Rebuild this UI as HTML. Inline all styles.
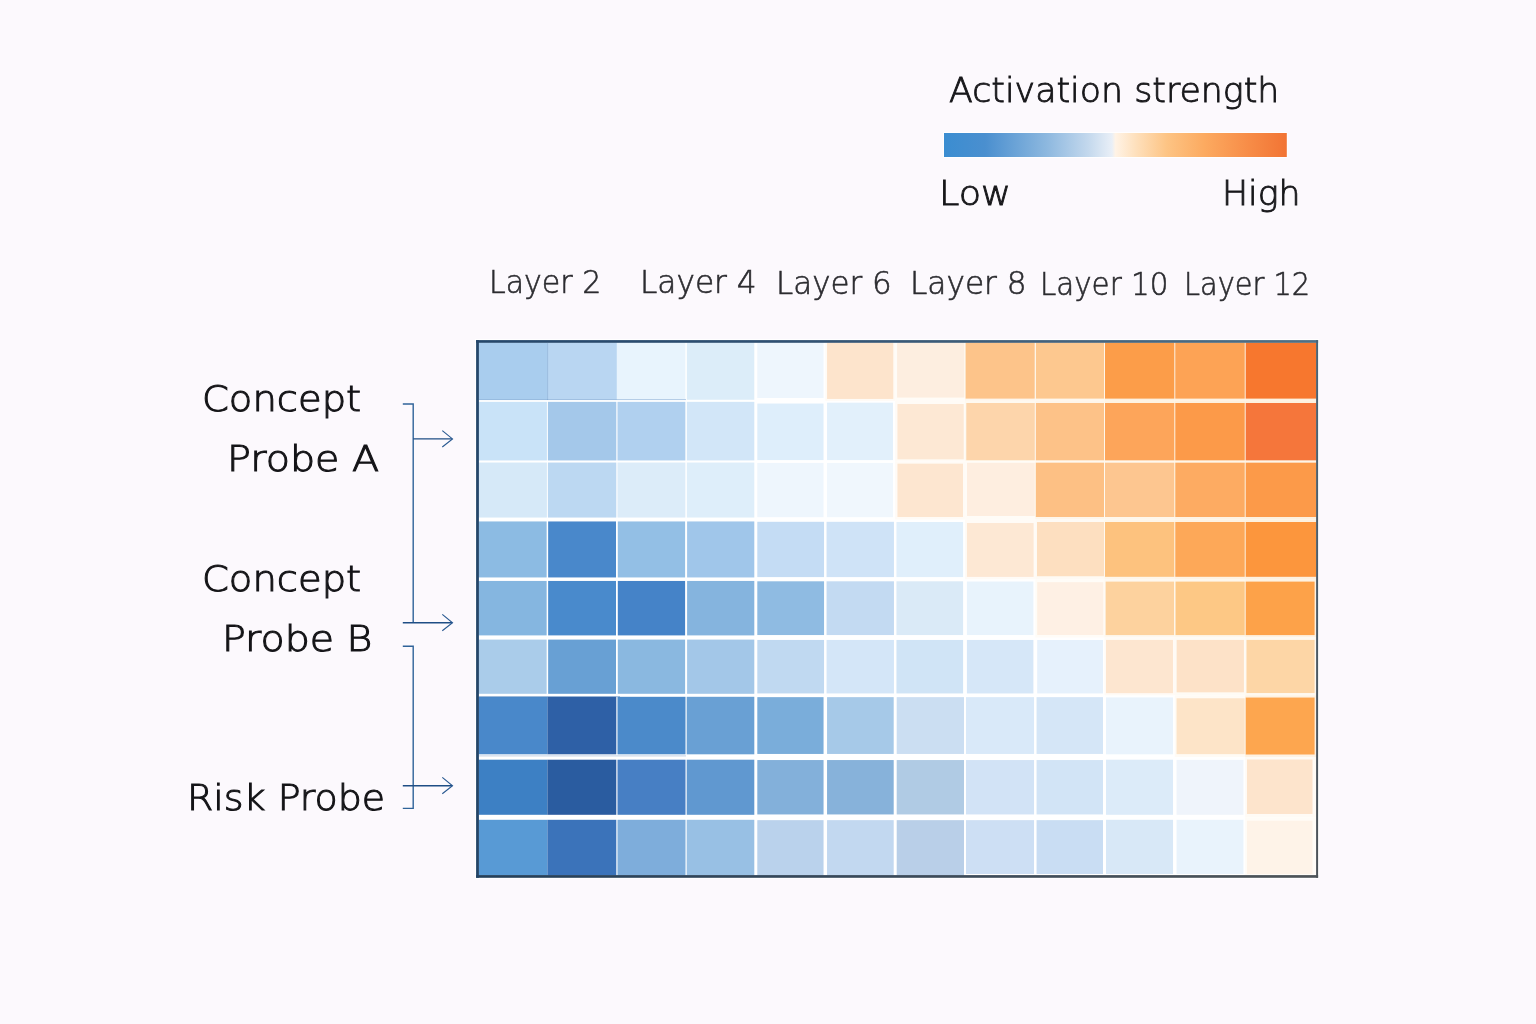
<!DOCTYPE html>
<html lang="en">
<head>
<meta charset="utf-8">
<title>Activation strength heatmap</title>
<style>
html,body{margin:0;padding:0}
body{width:1536px;height:1024px;overflow:hidden;background:#fcf9fd;position:relative;font-family:"DejaVu Sans Light","DejaVu Sans","Liberation Sans",sans-serif;font-weight:200}
.t{position:absolute;white-space:nowrap;line-height:1;transform-origin:0 0;margin:0}
</style>
</head>
<body>

<svg width="1536" height="1024" viewBox="0 0 1536 1024" style="position:absolute;left:0;top:0" role="img" aria-label="Activation strength heatmap">
<defs><linearGradient id="cb" x1="0" x2="1" y1="0" y2="0"><stop offset="0" stop-color="#3b8dd1"/><stop offset="0.12" stop-color="#4a8fcf"/><stop offset="0.3" stop-color="#8db8df"/><stop offset="0.42" stop-color="#c3d8ed"/><stop offset="0.49" stop-color="#e9eff7"/><stop offset="0.5" stop-color="#fff3e6"/><stop offset="0.56" stop-color="#fee0bc"/><stop offset="0.65" stop-color="#fdc484"/><stop offset="0.76" stop-color="#fcaa60"/><stop offset="0.89" stop-color="#f78c47"/><stop offset="1" stop-color="#f27434"/></linearGradient><linearGradient id="ft" x1="0" x2="1" y1="0" y2="0"><stop offset="0" stop-color="#25476b"/><stop offset="0.35" stop-color="#2f5072"/><stop offset="0.7" stop-color="#45637c"/><stop offset="1" stop-color="#507084"/></linearGradient><linearGradient id="fb" x1="0" x2="1" y1="0" y2="0"><stop offset="0" stop-color="#233f5a"/><stop offset="0.5" stop-color="#3a4a5a"/><stop offset="1" stop-color="#4e5458"/></linearGradient><linearGradient id="fl" x1="0" x2="0" y1="0" y2="1"><stop offset="0" stop-color="#25476b"/><stop offset="1" stop-color="#234466"/></linearGradient><linearGradient id="fg" x1="0" x2="0" y1="0" y2="1"><stop offset="0" stop-color="#4a6374"/><stop offset="1" stop-color="#4d5358"/></linearGradient><filter id="soft" x="-2%" y="-2%" width="104%" height="104%"><feGaussianBlur stdDeviation="0.45"/></filter></defs>
<rect x="943.2" y="132.2" width="344.4" height="25.6" fill="#ffffff"/>
<rect x="944" y="133" width="342.8" height="24" fill="url(#cb)"/>
<rect x="475" y="339" width="844.2" height="539.8" fill="#ffffff"/>
<rect x="478" y="342" width="839" height="534" fill="#ffffff"/>
<g><rect x="825.3" y="343" width="69.9" height="57.8" fill="#fffbf5"/><rect x="895.2" y="343" width="69.8" height="57.8" fill="#fffcf7"/><rect x="965" y="343" width="70.3" height="57.8" fill="#fef6eb"/><rect x="1035.3" y="343" width="69.2" height="57.8" fill="#fef7ec"/><rect x="1104.5" y="343" width="70.3" height="57.8" fill="#fdf1e0"/><rect x="1174.8" y="343" width="70.4" height="57.8" fill="#fef2e1"/><rect x="1245.2" y="343" width="70.8" height="57.8" fill="#fdf1df"/><rect x="895.2" y="400.8" width="69.8" height="60.7" fill="#fffbf6"/><rect x="965" y="400.8" width="70.3" height="60.7" fill="#fef9f0"/><rect x="1035.3" y="400.8" width="69.2" height="60.7" fill="#fef6eb"/><rect x="1104.5" y="400.8" width="70.3" height="60.7" fill="#fef3e2"/><rect x="1174.8" y="400.8" width="70.4" height="60.7" fill="#fdf1df"/><rect x="1245.2" y="400.8" width="70.8" height="60.7" fill="#fdf1df"/><rect x="895.2" y="461.5" width="69.8" height="58" fill="#fffbf6"/><rect x="965" y="461.5" width="70.3" height="58" fill="#fffcf7"/><rect x="1035.3" y="461.5" width="69.2" height="58" fill="#fef6ea"/><rect x="1104.5" y="461.5" width="70.3" height="58" fill="#fef7ec"/><rect x="1174.8" y="461.5" width="70.4" height="58" fill="#fef3e4"/><rect x="1245.2" y="461.5" width="70.8" height="58" fill="#fdf1df"/><rect x="965" y="519.5" width="70.3" height="59.7" fill="#fffbf6"/><rect x="1035.3" y="519.5" width="69.2" height="59.7" fill="#fefaf4"/><rect x="1104.5" y="519.5" width="70.3" height="59.7" fill="#fef6ea"/><rect x="1174.8" y="519.5" width="70.4" height="59.7" fill="#fef3e3"/><rect x="1245.2" y="519.5" width="70.8" height="59.7" fill="#fdf1df"/><rect x="1035.3" y="579.2" width="69.2" height="58.3" fill="#fffcf7"/><rect x="1104.5" y="579.2" width="70.3" height="58.3" fill="#fef8ef"/><rect x="1174.8" y="579.2" width="70.4" height="58.3" fill="#fef7ec"/><rect x="1245.2" y="579.2" width="70.8" height="58.3" fill="#fef2e1"/><rect x="1104.5" y="637.5" width="70.3" height="57.8" fill="#fffbf6"/><rect x="1174.8" y="637.5" width="70.4" height="57.8" fill="#fefbf5"/><rect x="1245.2" y="637.5" width="70.8" height="57.8" fill="#fef9f0"/><rect x="1174.8" y="695.3" width="70.4" height="61.7" fill="#fffbf5"/><rect x="1245.2" y="695.3" width="70.8" height="61.7" fill="#fef2e2"/><rect x="1245.2" y="757" width="70.8" height="60.3" fill="#fffbf5"/><rect x="1245.2" y="817.3" width="70.8" height="57.7" fill="#fffcf7"/></g>
<g filter="url(#soft)"><rect x="478.5" y="342.5" width="68.9" height="57.25" fill="#a9cdee"/>
<rect x="547.4" y="342.5" width="69.5" height="57.25" fill="#b9d6f2"/>
<rect x="616.9" y="342.5" width="68.45" height="57.25" fill="#e8f4fd"/>
<rect x="686.85" y="342.5" width="67.45" height="57.25" fill="#dcedf9"/>
<rect x="757.3" y="342.5" width="66.25" height="55.55" fill="#eef6fd"/>
<rect x="827.05" y="342.5" width="66.24" height="56.43" fill="#fde4cc"/>
<rect x="897.11" y="342.5" width="67.27" height="55.07" fill="#fdeee0"/>
<rect x="965.62" y="342.5" width="69.06" height="56.1" fill="#fdc48a"/>
<rect x="1035.92" y="342.5" width="68.08" height="56.1" fill="#fdc88f"/>
<rect x="1105" y="342.5" width="69.3" height="56.1" fill="#fc9d4a"/>
<rect x="1175.3" y="342.5" width="69.4" height="56.1" fill="#fda354"/>
<rect x="1245.7" y="342.5" width="70.8" height="56.1" fill="#f7772f"/>
<rect x="478.5" y="401.85" width="68.4" height="58.6" fill="#c9e3f8"/>
<rect x="547.9" y="401.85" width="68.4" height="58.6" fill="#a4c8ea"/>
<rect x="617.5" y="401.85" width="67.85" height="58.6" fill="#b0d0ef"/>
<rect x="686.85" y="401.85" width="67.45" height="58.6" fill="#d2e6f8"/>
<rect x="757.3" y="403.55" width="66.25" height="56.55" fill="#deeefb"/>
<rect x="827.05" y="402.68" width="65.9" height="57.43" fill="#e2f0fb"/>
<rect x="897.45" y="404.03" width="66.26" height="55.34" fill="#fde8d4"/>
<rect x="966.29" y="403" width="68.46" height="57.25" fill="#fdd5ab"/>
<rect x="1035.85" y="403" width="68.15" height="57.3" fill="#fdc288"/>
<rect x="1105" y="403" width="69.3" height="57.3" fill="#fda55a"/>
<rect x="1175.3" y="403" width="69.4" height="57.3" fill="#fc9a4a"/>
<rect x="1245.7" y="403" width="70.8" height="57.3" fill="#f5763a"/>
<rect x="478.5" y="462.55" width="68.4" height="55" fill="#d6e9f8"/>
<rect x="547.9" y="462.55" width="68.4" height="55" fill="#bcd8f2"/>
<rect x="617.5" y="462.55" width="67.85" height="55" fill="#dcecf9"/>
<rect x="686.85" y="462.55" width="67.45" height="55" fill="#deeefa"/>
<rect x="757.3" y="462.9" width="66.25" height="54.3" fill="#eef6fd"/>
<rect x="827.05" y="462.9" width="65.9" height="54.3" fill="#f0f7fd"/>
<rect x="897.45" y="463.63" width="65.56" height="53.4" fill="#fde6d0"/>
<rect x="966.99" y="462.75" width="67.81" height="53.22" fill="#feeee0"/>
<rect x="1035.8" y="462.7" width="68.2" height="54.3" fill="#fdc084"/>
<rect x="1105" y="462.7" width="69.3" height="54.3" fill="#fdc690"/>
<rect x="1175.3" y="462.7" width="69.4" height="54.3" fill="#fdab62"/>
<rect x="1245.7" y="462.7" width="70.8" height="54.3" fill="#fc9a48"/>
<rect x="478.5" y="521.45" width="68.15" height="56" fill="#8cbbe3"/>
<rect x="548.15" y="521.45" width="67.85" height="56" fill="#4a88cb"/>
<rect x="617.8" y="521.45" width="67.3" height="56" fill="#93bfe5"/>
<rect x="687.1" y="521.45" width="67.2" height="56" fill="#a0c6ea"/>
<rect x="757.3" y="521.8" width="66.75" height="55.3" fill="#c4dcf4"/>
<rect x="826.55" y="521.8" width="67.4" height="55.3" fill="#cfe3f7"/>
<rect x="896.45" y="521.98" width="66.65" height="55.12" fill="#e0effb"/>
<rect x="966.9" y="523.03" width="66.7" height="53.85" fill="#fde8d4"/>
<rect x="1037" y="522" width="67" height="54.24" fill="#fddfc0"/>
<rect x="1105" y="522" width="69.3" height="54.8" fill="#fdc27e"/>
<rect x="1175.3" y="522" width="69.4" height="54.8" fill="#fda858"/>
<rect x="1245.7" y="522" width="70.8" height="54.8" fill="#fc963e"/>
<rect x="478.5" y="580.95" width="68.15" height="54.45" fill="#85b6e0"/>
<rect x="548.15" y="580.95" width="67.85" height="54.45" fill="#4a8acc"/>
<rect x="617.8" y="580.95" width="67.3" height="54.45" fill="#4583c8"/>
<rect x="687.1" y="580.95" width="67.2" height="54.45" fill="#85b4de"/>
<rect x="757.3" y="581.3" width="66.75" height="53.75" fill="#8fbbe2"/>
<rect x="826.55" y="581.3" width="67.4" height="53.75" fill="#c3daf2"/>
<rect x="896.45" y="581.3" width="66.65" height="53.75" fill="#daeaf7"/>
<rect x="966.9" y="581.53" width="66.5" height="53.52" fill="#e8f3fc"/>
<rect x="1037.2" y="582.16" width="66.17" height="52.84" fill="#fef0e4"/>
<rect x="1105.63" y="581.6" width="68.46" height="53.5" fill="#fdd29e"/>
<rect x="1175.51" y="581.6" width="69.19" height="53.5" fill="#fdc885"/>
<rect x="1245.7" y="581.6" width="68.9" height="53.5" fill="#fda24a"/>
<rect x="478.5" y="639.6" width="68.15" height="54.2" fill="#aaccea"/>
<rect x="548.15" y="639.6" width="67.85" height="54.2" fill="#67a0d4"/>
<rect x="617.8" y="639.6" width="67.3" height="54.2" fill="#8ab8e0"/>
<rect x="687.1" y="639.6" width="67.2" height="54.2" fill="#a3c7e8"/>
<rect x="757.3" y="639.95" width="66.75" height="53.5" fill="#c0d9f1"/>
<rect x="826.55" y="639.95" width="67.4" height="53.5" fill="#d4e6f8"/>
<rect x="896.45" y="639.95" width="66.65" height="53.5" fill="#d0e4f6"/>
<rect x="966.9" y="639.95" width="66.5" height="53.5" fill="#d6e7f8"/>
<rect x="1037.2" y="640" width="65.8" height="53.45" fill="#e6f1fc"/>
<rect x="1106" y="639.9" width="66.97" height="53.27" fill="#fde6d0"/>
<rect x="1176.63" y="639.9" width="67.28" height="52.42" fill="#fde2c8"/>
<rect x="1246.49" y="639.9" width="68.11" height="53.15" fill="#fdd6a6"/>
<rect x="478.5" y="696.8" width="68.9" height="57.5" fill="#4888ca"/>
<rect x="547.4" y="696.8" width="68.9" height="57.5" fill="#2d60a6"/>
<rect x="617.5" y="696.8" width="68" height="57.5" fill="#4b8aca"/>
<rect x="686.7" y="696.8" width="67.6" height="57.5" fill="#69a0d4"/>
<rect x="757.3" y="697.15" width="66.25" height="56.8" fill="#7aadda"/>
<rect x="827.05" y="697.15" width="66.65" height="56.8" fill="#a6c9e8"/>
<rect x="896.7" y="697.15" width="67.3" height="56.8" fill="#cbdef2"/>
<rect x="966" y="697.15" width="68.05" height="56.8" fill="#d9e9f9"/>
<rect x="1036.55" y="697.15" width="66.45" height="56.8" fill="#d5e6f7"/>
<rect x="1106" y="697.42" width="67.05" height="56.88" fill="#e9f3fc"/>
<rect x="1176.55" y="698.28" width="68.15" height="55.87" fill="#fde4c8"/>
<rect x="1245.7" y="697.55" width="68.9" height="56.95" fill="#fda650"/>
<rect x="478.5" y="759.7" width="68.9" height="55.1" fill="#3e80c4"/>
<rect x="547.4" y="759.7" width="68.9" height="55.1" fill="#2a5ba0"/>
<rect x="617.5" y="759.7" width="68" height="55.1" fill="#467fc4"/>
<rect x="686.7" y="759.7" width="67.6" height="55.1" fill="#6098d0"/>
<rect x="757.3" y="760.05" width="66.25" height="54.4" fill="#83b0da"/>
<rect x="827.05" y="760.05" width="66.65" height="54.4" fill="#87b2da"/>
<rect x="896.7" y="760.05" width="67.3" height="54.4" fill="#b0cbe4"/>
<rect x="966" y="760.05" width="68.05" height="54.4" fill="#d2e3f6"/>
<rect x="1036.55" y="760.05" width="66.45" height="54.4" fill="#d2e4f6"/>
<rect x="1106" y="759.7" width="67.05" height="55.1" fill="#dcebf9"/>
<rect x="1176.55" y="759.85" width="66.9" height="54.95" fill="#eff4fb"/>
<rect x="1246.95" y="759.5" width="65.55" height="54.47" fill="#fde4cc"/>
<rect x="478.5" y="819.8" width="68.9" height="55.7" fill="#589ad5"/>
<rect x="547.4" y="819.8" width="68.9" height="55.7" fill="#3a73ba"/>
<rect x="617.5" y="819.8" width="68" height="55.7" fill="#7eaddb"/>
<rect x="686.7" y="819.8" width="67.6" height="55.7" fill="#98c0e4"/>
<rect x="757.3" y="820.15" width="66.25" height="55.35" fill="#bad2ec"/>
<rect x="827.05" y="820.15" width="66.65" height="55.35" fill="#c2d8f0"/>
<rect x="896.7" y="820.15" width="67.3" height="55.35" fill="#b9cfe8"/>
<rect x="966" y="820.15" width="68.05" height="53.85" fill="#cddff4"/>
<rect x="1036.55" y="820.15" width="66.45" height="53.85" fill="#c9ddf3"/>
<rect x="1106" y="819.8" width="67.05" height="54.2" fill="#d8e8f7"/>
<rect x="1176.55" y="819.8" width="66.9" height="54.2" fill="#e9f3fc"/>
<rect x="1246.95" y="820.63" width="65.55" height="53.37" fill="#fef3e8"/></g>
<path d="M479 755.9H686" fill="none" stroke="#8ea9cf" stroke-opacity="0.6" stroke-width="0.9"/>
<path d="M479 696.6H620" fill="none" stroke="#4f7fba" stroke-opacity="0.55" stroke-width="0.9"/>
<path d="M547.6 343V400M479 399.6H686" fill="none" stroke="#5f8fc4" stroke-opacity="0.55" stroke-width="0.8"/>
<rect x="476.1" y="340.1" width="842" height="2.7" fill="url(#ft)"/>
<rect x="476.1" y="875.1" width="842" height="2.7" fill="url(#fb)"/>
<rect x="1316.1" y="340.1" width="2" height="537.7" fill="url(#fg)"/>
<rect x="476.1" y="340.1" width="2.8" height="537.7" fill="url(#fl)"/>
<path fill="none" stroke="#2f6399" stroke-width="1.4" stroke-linejoin="miter" d="M402.8 404H413.2V623"/>
<path fill="none" stroke="#2f6399" stroke-width="1.4" stroke-linejoin="miter" d="M402.8 646.2H413.2V808.4H402.8"/>
<path fill="none" stroke="#1f4e85" stroke-width="1.35" d="M413.2 438.9H452.2"/>
<path fill="none" stroke="#275890" stroke-width="1.1" stroke-linejoin="miter" d="M442.3 430.6L452.5 438.9L442.3 447"/>
<path fill="none" stroke="#1f4e85" stroke-width="1.35" d="M402.8 622.7H452.2"/>
<path fill="none" stroke="#275890" stroke-width="1.1" stroke-linejoin="miter" d="M442.3 614.4L452.5 622.7L442.3 630.8"/>
<path fill="none" stroke="#1f4e85" stroke-width="1.35" d="M402.8 785.7H452.2"/>
<path fill="none" stroke="#275890" stroke-width="1.1" stroke-linejoin="miter" d="M442.3 777.4L452.5 785.7L442.3 793.8"/>
</svg>
<div class="t" id="t1" style="left:949.07px;top:73.6px;font-size:33.82px;color:#17171a;-webkit-text-stroke:0.85px #17171a;transform:scaleX(1.0284)">Activation strength</div>
<div class="t" id="t2" style="left:939.45px;top:177.17px;font-size:33px;color:#17171a;-webkit-text-stroke:0.85px #17171a;transform:scaleX(1.1085)">Low</div>
<div class="t" id="t3" style="left:1222.17px;top:177.17px;font-size:33px;color:#17171a;-webkit-text-stroke:0.85px #17171a;transform:scaleX(1.0522)">High</div>
<div class="t" id="l2" style="left:489.1px;top:265.9px;font-size:32.19px;color:#2c2c30;-webkit-text-stroke:0.6px #2c2c30;transform:scaleX(0.9324)">Layer 2</div>
<div class="t" id="l4" style="left:640.16px;top:266.45px;font-size:32.19px;color:#2c2c30;-webkit-text-stroke:0.6px #2c2c30;transform:scaleX(0.9685)">Layer 4</div>
<div class="t" id="l6" style="left:775.83px;top:266.75px;font-size:32.19px;color:#2c2c30;-webkit-text-stroke:0.6px #2c2c30;transform:scaleX(0.9599)">Layer 6</div>
<div class="t" id="l8" style="left:909.8px;top:267.8px;font-size:31.75px;color:#2c2c30;-webkit-text-stroke:0.6px #2c2c30;transform:scaleX(0.9818)">Layer 8</div>
<div class="t" id="l10" style="left:1039.55px;top:268.84px;font-size:31.57px;color:#2c2c30;-webkit-text-stroke:0.6px #2c2c30;transform:scaleX(0.9284)">Layer 10</div>
<div class="t" id="l12" style="left:1184.11px;top:269.04px;font-size:31.57px;color:#2c2c30;-webkit-text-stroke:0.6px #2c2c30;transform:scaleX(0.9130)">Layer 12</div>
<div class="t" id="c1" style="left:202.41px;top:380.8px;font-size:36.06px;color:#141417;-webkit-text-stroke:1px #141417;transform:scaleX(1.0675)">Concept</div>
<div class="t" id="p1" style="left:226.5px;top:440.78px;font-size:35.74px;color:#141417;-webkit-text-stroke:1px #141417;transform:scaleX(1.1097)">Probe A</div>
<div class="t" id="c2" style="left:202.41px;top:561px;font-size:36.06px;color:#141417;-webkit-text-stroke:1px #141417;transform:scaleX(1.0675)">Concept</div>
<div class="t" id="p2" style="left:221.82px;top:621.18px;font-size:35.74px;color:#141417;-webkit-text-stroke:1px #141417;transform:scaleX(1.1053)">Probe B</div>
<div class="t" id="rp" style="left:186.82px;top:779.59px;font-size:36.2px;color:#141417;-webkit-text-stroke:1px #141417;transform:scaleX(1.0476)">Risk Probe</div>
</body>
</html>
